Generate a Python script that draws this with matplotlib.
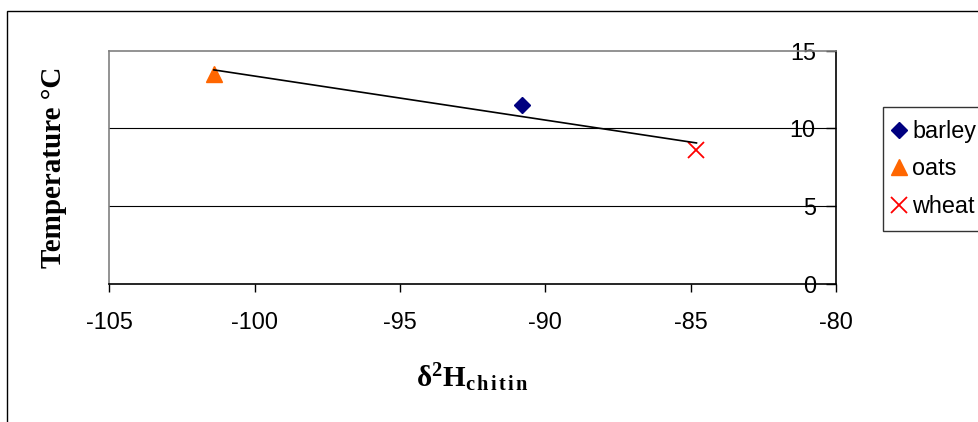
import numpy as np
import matplotlib
matplotlib.use("Agg")
import matplotlib.pyplot as plt
from matplotlib.patches import Rectangle

# Measured values: deuterium in chitin (x) against temperature (y)
grains = ["barley", "oats", "wheat"]
d2h_chitin = [-90.8, -101.4, -84.8]
temperature = [11.5, 13.5, 8.6]

x_ticks = [-105, -100, -95, -90, -85, -80]
y_ticks = [0, 5, 10, 15]

marker_styles = {
    "barley": dict(marker="D", color="#000080", ms=8.5, mec="#000080"),
    "oats": dict(marker="^", color="#FF6600", ms=12, mec="#FF6600"),
    "wheat": dict(marker="x", color="#FF0000", ms=12, mew=1.3),
}

plt.rcParams["font.family"] = ["Liberation Sans", "DejaVu Sans"]
plt.rcParams["mathtext.fontset"] = "custom"
plt.rcParams["mathtext.rm"] = "Liberation Serif"
plt.rcParams["mathtext.bf"] = "Liberation Serif:bold"
plt.rcParams["mathtext.it"] = "Liberation Serif:italic"

W, H = 979, 422
fig = plt.figure(figsize=(W / 100, H / 100), dpi=100)
fig.patch.set_facecolor("white")

# outer chart frame
fig.patches.append(Rectangle((7.5 / W, -0.5), 2.0, 1.5 - 11 / H, transform=fig.transFigure,
                             fill=False, edgecolor="black", linewidth=1.0))

left, right, top, bottom = 109.3, 836.0, 50.7, 284.0
ax = fig.add_axes([left / W, 1 - bottom / H, (right - left) / W, (bottom - top) / H])

for name, x, y in zip(grains, d2h_chitin, temperature):
    ax.plot([x], [y], linestyle="none", label=name, zorder=3, **marker_styles[name])

# linear trend line over the range of the data
slope, intercept = np.polyfit(d2h_chitin, temperature, 1)
xs = np.array([min(d2h_chitin), max(d2h_chitin)])
ax.plot(xs, slope * xs + intercept, color="black", lw=1.2, zorder=4)

ax.set_xlim(x_ticks[0], x_ticks[-1])
ax.set_ylim(y_ticks[0], y_ticks[-1])
ax.set_xticks(x_ticks)
ax.set_xticklabels([str(v) for v in x_ticks])
ax.set_yticks(y_ticks)
ax.set_yticklabels([str(v) for v in y_ticks])

# horizontal gridlines at the inner ticks
for v in y_ticks[1:-1]:
    ax.axhline(v, color="black", lw=0.8, zorder=1)

for side in ("left", "top"):
    ax.spines[side].set_color("#808080")
    ax.spines[side].set_linewidth(1.2)
for side in ("bottom", "right"):
    ax.spines[side].set_color("black")
    ax.spines[side].set_linewidth(1.2)

ax.tick_params(axis="x", direction="out", length=5.5, width=1, labelsize=16.8, pad=14)
ax.tick_params(axis="y", left=False, right=True, labelleft=False, labelright=True,
               direction="in", length=7, width=1, labelsize=16.8, pad=-14.5)
for lab in ax.get_yticklabels():
    lab.set_horizontalalignment("right")

ax.set_ylabel("Temperature °C", family="Liberation Serif", fontweight="bold", fontsize=21)
ax.yaxis.set_label_coords((67 - left) / (right - left), 0.5)

fig.text(472.5 / W, 1 - 378 / H, r"$\mathbf{\delta^{2}H_{c\,h\,i\,t\,i\,n}}$",
         fontsize=21, ha="center", va="center")

leg = fig.legend(loc="upper left", bbox_to_anchor=(883 / W, 1 - 107 / H),
                 frameon=True, fancybox=False, shadow=False, fontsize=16.8,
                 handlelength=0.3, handletextpad=0.4, borderpad=0.55,
                 labelspacing=0.62, borderaxespad=0.0, numpoints=1)
leg.get_frame().set_edgecolor("black")
leg.get_frame().set_linewidth(1.0)

fig.savefig("out.png", dpi=100, facecolor="white")
